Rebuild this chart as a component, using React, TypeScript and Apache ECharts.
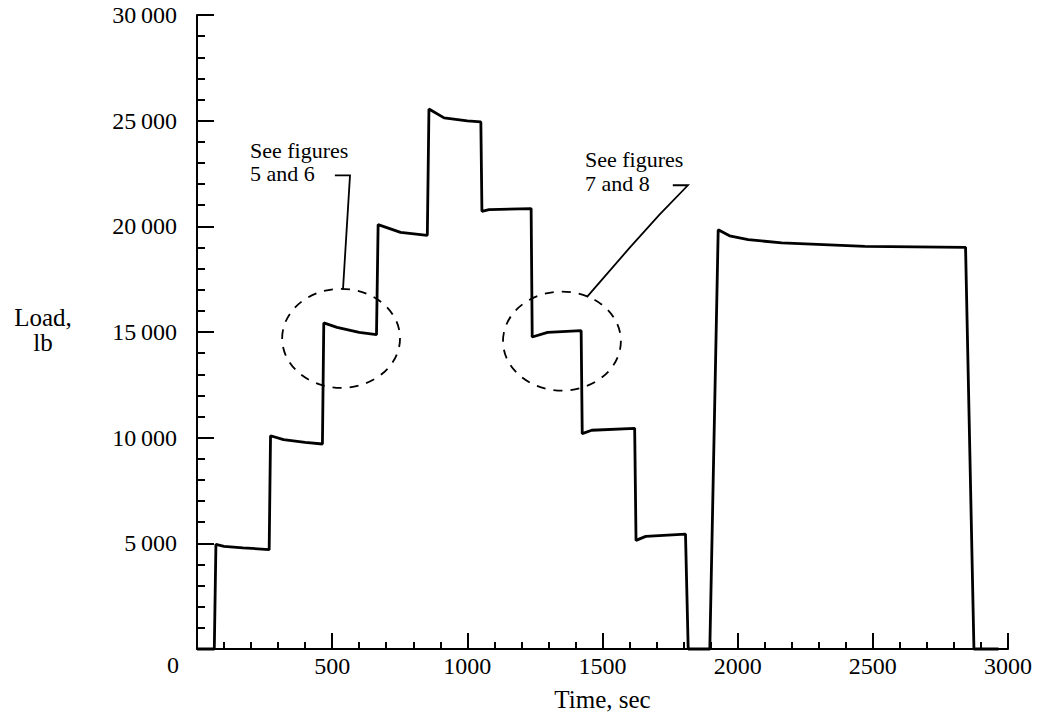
import React, { useEffect, useRef } from "react";
import * as echarts from "echarts";

// Time (s) and load (lb) samples
const timeSec: number[] = [
  0, 64, 70, 100, 170, 267,
  272, 320, 400, 464,
  469, 518, 600, 664,
  670, 753, 852,
  858, 914, 1000, 1050,
  1054, 1080, 1236,
  1240, 1297, 1421,
  1425, 1460, 1619,
  1624, 1660, 1807,
  1817, 1897,
  1928, 1970, 2039, 2163, 2471, 2843,
  2874, 2965,
];
const loadLb: number[] = [
  0, 0, 4950, 4860, 4790, 4700,
  10090, 9905, 9780, 9700,
  15430, 15220, 14980, 14875,
  20080, 19715, 19575,
  25555, 25130, 24990, 24940,
  20710, 20790, 20840,
  14765, 14985, 15063,
  10190, 10350, 10440,
  5140, 5330, 5440,
  0, 0,
  19840, 19550, 19370, 19215, 19055, 19005,
  0, 0,
];

const xTicks = { min: 0, max: 3000, interval: 500 };
const yTicks = { min: 0, max: 30000, interval: 5000 };

// Annotations (data units)
const ellipseCentersT: number[] = [533, 1350];
const ellipseCentersL: number[] = [14700, 14570];
const ellipseRadiusT = 218;
const ellipseRadiusL = 2340;
const noteLines: string[][] = [
  ["See figures", "5 and 6"],
  ["See figures", "7 and 8"],
];
const leader1T: number[] = [510, 566, 540];
const leader1L: number[] = [22415, 22415, 17013];
const leader2T: number[] = [1760, 1816, 1710, 1600, 1442];
const leader2L: number[] = [21943, 21943, 20540, 18980, 16650];

const FONT = "'Liberation Serif', 'Times New Roman', serif";

function fmt(v: number): string {
  return String(v).replace(/\B(?=(\d{3})+(?!\d))/g, "\u2009");
}

export default function App() {
  const ref = useRef<HTMLDivElement>(null);
  useEffect(() => {
    if (!ref.current) return;
    const chart = echarts.init(ref.current, undefined, { renderer: "svg" });
    const data = timeSec.map((t, i) => [t, loadLb[i]]);
    chart.setOption({
      animation: false,
      backgroundColor: "#fff",
      grid: { left: 197, right: 40, top: 15, bottom: 70 },
      xAxis: {
        type: "value",
        min: xTicks.min,
        max: xTicks.max,
        interval: xTicks.interval,
        axisLine: { lineStyle: { color: "#000", width: 2 } },
        axisTick: { inside: true, length: 16, lineStyle: { color: "#000", width: 2 } },
        minorTick: { show: true, splitNumber: 5, length: 7, lineStyle: { color: "#000", width: 2 } },
        splitLine: { show: false },
        axisLabel: {
          color: "#000",
          fontFamily: FONT,
          fontSize: 24,
          margin: 5,
          formatter: (v: number) => (v === 0 ? "" : String(v)),
        },
      },
      yAxis: {
        type: "value",
        min: yTicks.min,
        max: yTicks.max,
        interval: yTicks.interval,
        axisLine: { show: true, lineStyle: { color: "#000", width: 2 } },
        axisTick: { show: true, inside: true, length: 17, lineStyle: { color: "#000", width: 2 } },
        minorTick: { show: true, splitNumber: 5, length: 8, lineStyle: { color: "#000", width: 2 } },
        splitLine: { show: false },
        axisLabel: {
          color: "#000",
          fontFamily: FONT,
          fontSize: 24,
          margin: 20,
          formatter: (v: number) => (v === 0 ? "" : fmt(v)),
        },
      },
      series: [
        {
          type: "line",
          data,
          showSymbol: false,
          lineStyle: { color: "#000", width: 2.8 },
          clip: false,
        },
      ],
    });

    const px = (t: number, l: number) => chart.convertToPixel({ gridIndex: 0 }, [t, l]) as number[];
    const graphics: any[] = [];
    ellipseCentersT.forEach((t, i) => {
      const c = px(t, ellipseCentersL[i]);
      const e = px(t + ellipseRadiusT, ellipseCentersL[i] + ellipseRadiusL);
      graphics.push({
        type: "ellipse",
        shape: { cx: c[0], cy: c[1], rx: e[0] - c[0], ry: c[1] - e[1] },
        style: { fill: "none", stroke: "#000", lineWidth: 1.8, lineDash: [9, 8] },
      });
    });
    graphics.push({
      type: "polyline",
      shape: { points: leader1T.map((t, i) => px(t, leader1L[i])) },
      style: { fill: "none", stroke: "#000", lineWidth: 1.8 },
    });
    graphics.push({
      type: "polyline",
      shape: { points: leader2T.map((t, i) => px(t, leader2L[i])) },
      style: { fill: "none", stroke: "#000", lineWidth: 1.8 },
    });
    const notePos = [
      [250, 150, 173],
      [585, 159, 183],
    ];
    noteLines.forEach((lines, i) => {
      lines.forEach((s, j) => {
        graphics.push({
          type: "text",
          x: notePos[i][0],
          y: notePos[i][1 + j],
          style: { text: s, font: `22px ${FONT}`, fill: "#000", verticalAlign: "middle", align: "left" },
        });
      });
    });
    const zero = px(0, 0);
    graphics.push({
      type: "text",
      x: zero[0] - 24,
      y: zero[1] + 16,
      style: { text: "0", font: `24px ${FONT}`, fill: "#000", verticalAlign: "middle", align: "center" },
    });
    graphics.push({
      type: "text",
      x: 43,
      y: 317,
      style: { text: "Load,", font: `25px ${FONT}`, fill: "#000", verticalAlign: "middle", align: "center" },
    });
    graphics.push({
      type: "text",
      x: 43,
      y: 342,
      style: { text: "lb", font: `25px ${FONT}`, fill: "#000", verticalAlign: "middle", align: "center" },
    });
    const xMid = px((xTicks.min + xTicks.max) / 2, 0);
    graphics.push({
      type: "text",
      x: xMid[0],
      y: 699,
      style: { text: "Time, sec", font: `25px ${FONT}`, fill: "#000", verticalAlign: "middle", align: "center" },
    });
    chart.setOption({ graphic: graphics });

    return () => chart.dispose();
  }, []);
  return (
    <div
      ref={ref}
      style={{ position: "fixed", left: 0, top: 0, width: 1048, height: 719, background: "#fff" }}
    />
  );
}
